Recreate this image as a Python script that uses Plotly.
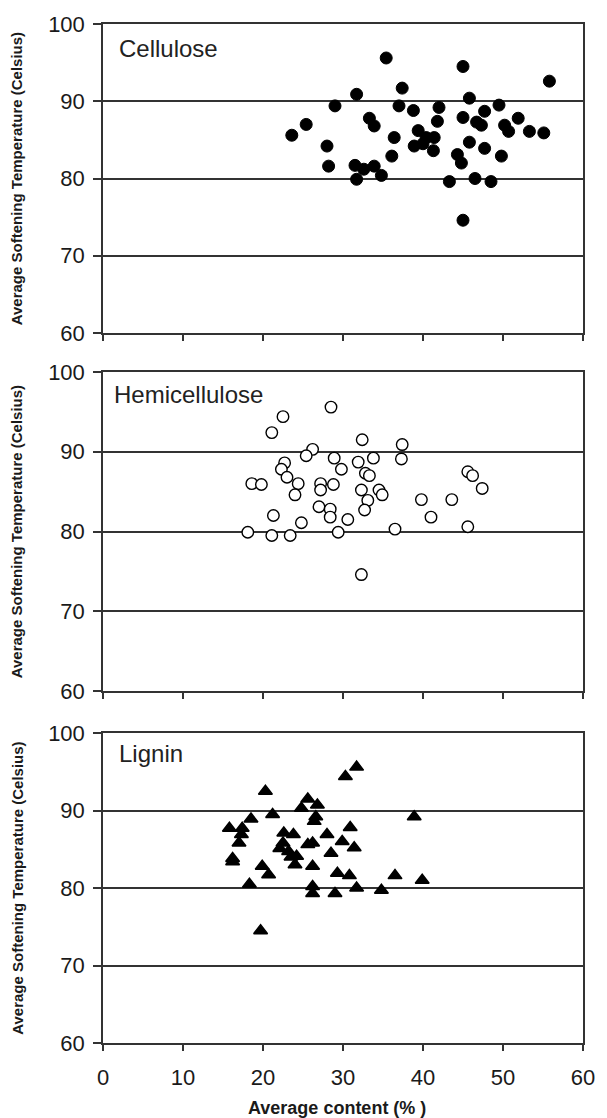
import plotly.graph_objects as go

# ---------------- data ----------------
cell_x = [29.0, 25.4, 23.6, 28.0, 28.2,
          35.4, 45.0, 55.8, 31.7, 37.4, 37.0, 38.8, 42.0, 45.8, 49.5, 47.7, 33.3, 33.9, 41.8,
          45.0, 46.7, 47.3, 50.2, 50.7, 51.9, 53.3, 55.1, 36.4, 39.4, 40.4, 41.4, 38.9, 40.0,
          41.3, 45.8, 47.7, 36.1, 44.3, 44.8, 49.8, 31.5, 32.6, 33.9, 34.8, 31.7, 43.3, 46.5,
          48.5, 45.0]
cell_y = [89.4, 87.0, 85.6, 84.2, 81.6,
          95.6, 94.5, 92.6, 90.9, 91.7, 89.4, 88.8, 89.2, 90.4, 89.5, 88.7, 87.8, 86.8, 87.4,
          87.9, 87.3, 86.9, 86.9, 86.1, 87.8, 86.1, 85.9, 85.3, 86.2, 85.3, 85.3, 84.2, 84.5,
          83.6, 84.7, 83.9, 82.9, 83.1, 82.0, 82.9, 81.7, 81.2, 81.6, 80.4, 79.9, 79.6, 80.0,
          79.6, 74.6]

hemi_x = [28.5, 22.5, 21.1, 26.2, 25.4, 28.9, 29.8, 22.7, 22.3, 23.0, 18.6, 19.8, 24.4,
          27.2, 27.2, 28.8, 24.0, 27.0, 28.4, 28.4, 21.3, 24.8, 18.1, 21.1, 23.4, 29.4,
          32.4, 37.4, 37.3, 33.8, 31.9, 32.8, 33.3, 32.3, 34.5, 34.9, 33.1, 32.7, 30.6,
          36.5, 39.8, 41.0, 43.6, 45.6, 46.2, 47.4, 45.6, 32.3]
hemi_y = [95.6, 94.4, 92.4, 90.3, 89.5, 89.2, 87.8, 88.6, 87.8, 86.8, 86.0, 85.9, 86.0,
          86.0, 85.2, 85.9, 84.6, 83.1, 82.8, 81.8, 82.0, 81.1, 79.9, 79.5, 79.5, 79.9,
          91.5, 90.9, 89.1, 89.2, 88.7, 87.3, 87.0, 85.2, 85.2, 84.6, 83.9, 82.7, 81.5,
          80.3, 84.0, 81.8, 84.0, 87.5, 87.0, 85.4, 80.6, 74.6]

lig_x = [20.3, 25.6, 26.8, 24.8, 21.2, 18.5, 26.6, 26.4, 15.8, 17.4, 17.3, 17.0, 22.6,
         23.8, 22.5, 22.1, 23.2, 23.5, 24.2, 24.0, 25.6, 26.2, 28.0, 28.5, 26.2, 29.3,
         16.2, 16.2, 19.9, 20.7, 18.3, 26.2, 26.2, 29.0, 19.7,
         31.7, 30.3, 38.9, 30.9, 29.9, 31.4, 30.8, 31.7, 34.8, 36.5, 39.9]
lig_y = [92.5, 91.5, 90.7, 90.3, 89.5, 88.9, 89.2, 88.6, 87.7, 87.7, 86.9, 85.8, 87.1,
         86.9, 85.8, 85.1, 84.7, 84.0, 84.1, 83.0, 85.6, 85.8, 86.9, 84.5, 82.8, 81.9,
         83.8, 83.4, 82.8, 81.7, 80.5, 80.2, 79.3, 79.3, 74.5,
         95.6, 94.4, 89.2, 87.8, 86.0, 85.2, 81.6, 80.0, 79.7, 81.6, 81.0]

panel_names = ["Cellulose", "Hemicellulose", "Lignin"]
x_ticks = [0, 10, 20, 30, 40, 50, 60]
y_ticks = [60, 70, 80, 90, 100]
y_title = "Average Softening Temperature (Celsius)"
x_title = "Average content (% )"

# ---------------- layout geometry ----------------
W, H = 607, 1118
L, R, T, B = 103, 14, 24, 75
PW = W - L - R
PH = H - T - B

def py(p):
    return (H - B - p) / PH

def px(p):
    return (p - L) / PW

panels_px = [(24, 333), (372, 691), (733, 1043)]
FONT = "Arial, Liberation Sans, sans-serif"
INK = "#1a1a1a"
GRID = "#333333"

fig = go.Figure()

fig.add_trace(go.Scatter(x=cell_x, y=cell_y, mode="markers", xaxis="x", yaxis="y",
                         marker=dict(symbol="circle", size=12, color="black",
                                     line=dict(color="black", width=1)),
                         showlegend=False))
fig.add_trace(go.Scatter(x=hemi_x, y=hemi_y, mode="markers", xaxis="x2", yaxis="y2",
                         marker=dict(symbol="circle", size=11.5, color="white",
                                     line=dict(color="black", width=1.4)),
                         showlegend=False))
fig.add_trace(go.Scatter(x=lig_x, y=lig_y, mode="markers", xaxis="x3", yaxis="y3",
                         marker=dict(symbol="triangle-up", size=12, color="black",
                                     line=dict(color="black", width=1.5)),
                         showlegend=False))

layout = dict(
    width=W, height=H,
    margin=dict(l=L, r=R, t=T, b=B),
    paper_bgcolor="white", plot_bgcolor="white",
    font=dict(family=FONT, color=INK),
    showlegend=False,
)

annotations = []
for i, (top, bot) in enumerate(panels_px):
    sfx = "" if i == 0 else str(i + 1)
    last = i == 2
    layout["xaxis" + sfx] = dict(
        domain=[0, 1], anchor="y" + sfx, range=[0, 60],
        tickvals=x_ticks, ticktext=[str(v) for v in x_ticks],
        showticklabels=last, ticks="outside", ticklen=6, tickwidth=1.5, tickcolor=GRID,
        ticklabelstandoff=8,
        showline=True, linecolor=GRID, linewidth=1.5, mirror=True,
        showgrid=False, zeroline=False,
        tickfont=dict(family=FONT, size=22, color=INK),
    )
    layout["yaxis" + sfx] = dict(
        domain=[py(bot), py(top)], anchor="x" + sfx, range=[60, 100],
        tickvals=y_ticks, ticktext=[str(v) for v in y_ticks],
        ticks="outside", ticklen=8, tickwidth=1.5, tickcolor=GRID,
        ticklabelstandoff=4,
        showline=True, linecolor=GRID, linewidth=1.5, mirror=True,
        showgrid=True, gridcolor=GRID, gridwidth=1.5, zeroline=False,
        tickfont=dict(family=FONT, size=22, color=INK),
    )
    # y-axis title
    annotations.append(dict(
        text="<b>" + y_title + "</b>", xref="paper", yref="paper",
        x=px(15), y=py((top + bot) / 2), xanchor="center", yanchor="middle",
        textangle=-90, showarrow=False,
        font=dict(family=FONT, size=15, color=INK),
    ))

label_pos = [(117, 48), (112, 394), (117, 753)]
for name, (lx, ly) in zip(panel_names, label_pos):
    annotations.append(dict(
        text=name, xref="paper", yref="paper", x=px(lx), y=py(ly),
        xanchor="left", yanchor="middle", showarrow=False,
        font=dict(family=FONT, size=24, color="#222222"),
    ))

annotations.append(dict(
    text="<b>" + x_title + "</b>", xref="paper", yref="paper",
    x=px(342), y=py(1108), xanchor="center", yanchor="middle", showarrow=False,
    font=dict(family=FONT, size=18, color=INK),
))

layout["annotations"] = annotations
fig.update_layout(**layout)

fig.write_html("out.html")
